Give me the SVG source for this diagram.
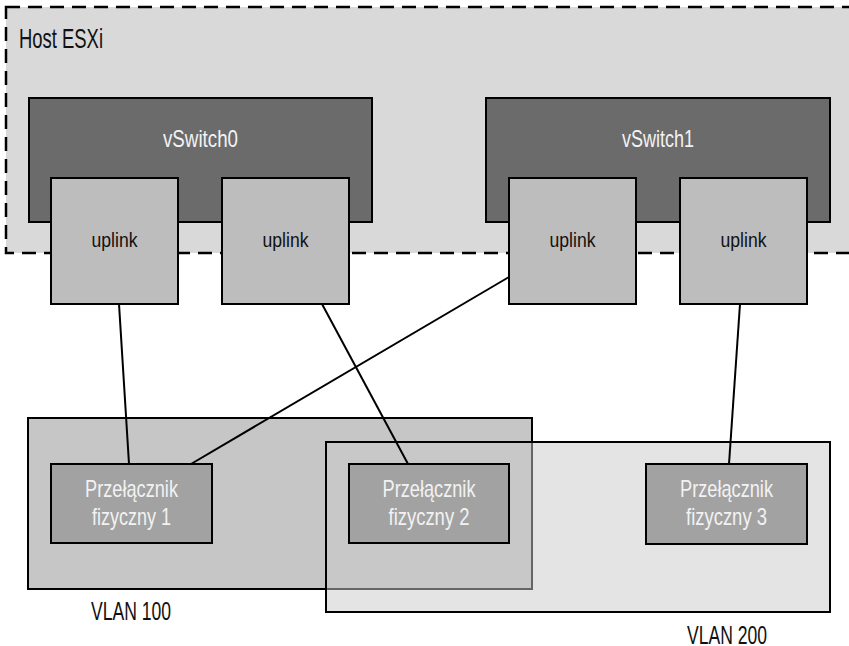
<svg xmlns="http://www.w3.org/2000/svg" width="849" height="646" viewBox="0 0 849 646">
<style>
text{font-family:"Liberation Sans",Arial,sans-serif;text-anchor:middle}
.host{fill:#d9d9d9;stroke:#000;stroke-width:2.5;stroke-dasharray:14 8}
.vsw{fill:#6b6b6b;stroke:#000;stroke-width:2}
.up{fill:#bdbdbd;stroke:#000;stroke-width:2}
.phys{fill:#a2a2a2;stroke:#000;stroke-width:2}
.lt{fill:#f2f2f2}
.dk{fill:#111}
.conn line{stroke:#000;stroke-width:2}
</style>
<rect width="849" height="646" fill="#fff"/>
<g id="host">
<rect class="host" x="6" y="7" width="860" height="246"/>
<text x="19" y="48" font-size="28" textLength="84" lengthAdjust="spacingAndGlyphs" style="text-anchor:start" class="dk">Host ESXi</text>
</g>
<g id="vswitch0">
<rect class="vsw" x="29" y="98" width="343" height="124"/>
<text x="200.5" y="147" font-size="24" textLength="75" lengthAdjust="spacingAndGlyphs" class="lt">vSwitch0</text>
</g>
<g id="vswitch1">
<rect class="vsw" x="486" y="98" width="344" height="124"/>
<text x="658" y="147" font-size="24" textLength="72" lengthAdjust="spacingAndGlyphs" class="lt">vSwitch1</text>
</g>
<g id="uplink1">
<rect class="up" x="51" y="178" width="127" height="126"/>
<text x="114.5" y="247" font-size="21" textLength="46" lengthAdjust="spacingAndGlyphs" class="dk">uplink</text>
</g>
<g id="uplink2">
<rect class="up" x="222" y="178" width="127" height="126"/>
<text x="285.5" y="247" font-size="21" textLength="46" lengthAdjust="spacingAndGlyphs" class="dk">uplink</text>
</g>
<g id="uplink3">
<rect class="up" x="509" y="178" width="127" height="126"/>
<text x="572.5" y="247" font-size="21" textLength="46" lengthAdjust="spacingAndGlyphs" class="dk">uplink</text>
</g>
<g id="uplink4">
<rect class="up" x="680" y="178" width="127" height="126"/>
<text x="743.5" y="247" font-size="21" textLength="46" lengthAdjust="spacingAndGlyphs" class="dk">uplink</text>
</g>
<g id="vlan100">
<rect x="28" y="418" width="504" height="171" fill="#c6c6c6" stroke="#000" stroke-width="2"/>
<text x="131" y="620" font-size="25" textLength="80" lengthAdjust="spacingAndGlyphs" class="dk">VLAN 100</text>
</g>
<g id="vlan200">
<rect x="326" y="442" width="504" height="170" fill="#cacaca" fill-opacity="0.5" stroke="#000" stroke-width="2"/>
<text x="727" y="644" font-size="26" textLength="80" lengthAdjust="spacingAndGlyphs" class="dk">VLAN 200</text>
</g>
<g id="connectors" class="conn">
<line x1="119" y1="304" x2="129" y2="464"/>
<line x1="322" y1="304" x2="408" y2="464"/>
<line x1="509" y1="277" x2="191" y2="464"/>
<line x1="740" y1="304" x2="729" y2="464"/>
</g>
<g id="phys1">
<rect class="phys" x="51" y="464" width="161" height="79"/>
<text x="131.5" y="497" font-size="24" textLength="93" lengthAdjust="spacingAndGlyphs" class="lt">Przełącznik</text>
<text x="131.5" y="525" font-size="24" textLength="79" lengthAdjust="spacingAndGlyphs" class="lt">fizyczny 1</text>
</g>
<g id="phys2">
<rect class="phys" x="349" y="464" width="160" height="79"/>
<text x="429" y="497" font-size="24" textLength="93" lengthAdjust="spacingAndGlyphs" class="lt">Przełącznik</text>
<text x="429" y="525" font-size="24" textLength="81" lengthAdjust="spacingAndGlyphs" class="lt">fizyczny 2</text>
</g>
<g id="phys3">
<rect class="phys" x="646" y="464" width="161" height="80"/>
<text x="726.5" y="497" font-size="24" textLength="93" lengthAdjust="spacingAndGlyphs" class="lt">Przełącznik</text>
<text x="726.5" y="525" font-size="24" textLength="81" lengthAdjust="spacingAndGlyphs" class="lt">fizyczny 3</text>
</g>
</svg>
